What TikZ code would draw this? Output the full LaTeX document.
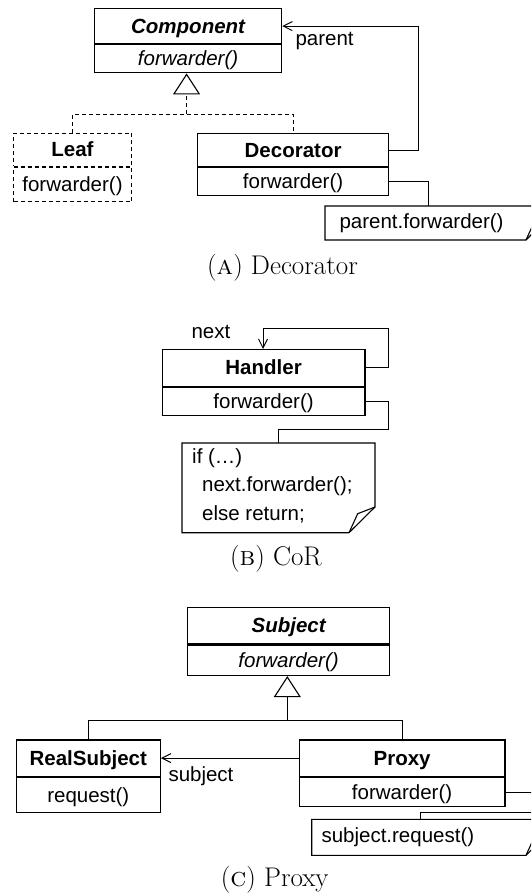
\documentclass[tikz,border=0pt]{standalone}
\usepackage{fontspec}
\newfontfamily\umlfont{Liberation Sans}
\usetikzlibrary{arrows.meta,calc}
\begin{document}
\begin{tikzpicture}[x=1pt,y=-1pt,
  line width=1pt,
  umltext/.style={font=\umlfont\fontsize{20.5}{24}\selectfont},
  compart/.style={draw, line width=1.2pt, rectangle, inner sep=0pt, anchor=north west, umltext, text height=17.5pt, text depth=3.5pt},
  ghost/.style={compart, line width=1pt, dash pattern=on 4pt off 3pt},
  notebox/.style={rectangle, inner sep=0pt, anchor=north west},
  noteline/.style={draw, line width=1.1pt},
  tag/.style={umltext, inner sep=0pt, anchor=west, text height=15pt, text depth=4.5pt},
  nav/.style={-{Straight Barb[length=9pt,width=9pt,line width=1pt]}},
  inherit/.style={-{Triangle[open,length=21pt,width=27pt,line width=1.1pt]}},
  caption/.style={font=\fontsize{27}{32}\selectfont, inner sep=0pt}
]
\useasboundingbox (0,0) rectangle (531,896);
\clip (0,0) rectangle (531,896);

% ---------------- (a) Decorator ----------------
\node[compart, minimum width=187pt, minimum height=35pt] (compN) at (94,8) {\bfseries\itshape Component};
\node[compart, minimum width=187pt, minimum height=28pt] (compO) at (compN.south west) {\itshape forwarder()};

\node[ghost, minimum width=118pt, minimum height=33pt] (leafN) at (13,133) {\bfseries Leaf};
\node[ghost, minimum width=118pt, minimum height=34pt] (leafO) at (leafN.south west) {forwarder()};

\node[compart, minimum width=191pt, minimum height=33pt] (decN) at (197,133) {\bfseries Decorator};
\node[compart, minimum width=191pt, minimum height=28pt] (decO) at (decN.south west) {forwarder()};

\node[notebox, minimum width=226pt, minimum height=33pt] (noteA) at (325,206) {};
\node[tag] (noteAtext) at ($(noteA.west)+(14,0)$) {parent.forwarder()};
\path[noteline] (noteA.north west) -- (noteA.north east) -- ($(noteA.south east)+(0,-26)$)
  -- ($(noteA.south east)+(-26,0)$) -- (noteA.south west) -- cycle;
\path[noteline] ($(noteA.south east)+(0,-26)$) -- ($(noteA.south east)+(-17.3,-19)$) -- ($(noteA.south east)+(-26,0)$);

\coordinate (genA) at ($(compO.south)+(-1.5,41)$);
\draw[dash pattern=on 4pt off 3pt] (leafN.north) |- (genA) -| (decN.north);
\draw[inherit, dash pattern=on 4pt off 3pt] (genA) -- (genA |- compO.south);

\draw[nav] (decN.east) -- ++(29,0) |- (compN.east);
\node[tag] (parentlbl) at (295,40) {parent};
\draw (decO.east) -| ($(noteA.north west)+(103,0)$);

\node[caption] (capA) at (282.5,268) {(\textsc{a}) Decorator};

% ---------------- (b) CoR ----------------
\node[compart, minimum width=202.6pt, minimum height=36.7pt] (handN) at (161.7,349) {\bfseries Handler};
\node[compart, minimum width=202.6pt, minimum height=28.3pt] (handO) at (handN.south west) {forwarder()};

\draw[nav] (handN.east) -- ++(22.7,0) -- ++(0,-39.6) -| ($(handN.north west)+(101.3,0)$);
\node[tag] (nextlbl) at (191,333) {next};

\node[notebox, minimum width=192pt, minimum height=88.7pt] (noteB) at (182,443) {};
\path[noteline] (noteB.north west) -- (noteB.north east) -- ($(noteB.south east)+(0,-25.7)$)
  -- ($(noteB.south east)+(-26,0)$) -- (noteB.south west) -- cycle;
\path[noteline] ($(noteB.south east)+(0,-25.7)$) -- ($(noteB.south east)+(-17.3,-19)$) -- ($(noteB.south east)+(-26,0)$);
\node[tag] (noteBl1) at ($(noteB.north west)+(9.7,15)$) {if (…)};
\node[tag] (noteBl2) at ($(noteB.north west)+(19.7,43.7)$) {next.forwarder();};
\node[tag] (noteBl3) at ($(noteB.north west)+(19.7,72)$) {else return;};

\draw (handO.east) -- ++(22.7,0) |- ($(noteB.north west)+(96,-14)$) -- ($(noteB.north west)+(96,0)$);

\node[caption] (capB) at (276,559) {(\textsc{b}) CoR};

% ---------------- (c) Proxy ----------------
\node[compart, minimum width=202pt, minimum height=36.6pt] (subjN) at (187,606.7) {\bfseries\itshape Subject};
\node[compart, minimum width=202pt, minimum height=30.4pt] (subjO) at (subjN.south west) {\itshape forwarder()};

\node[compart, minimum width=144pt, minimum height=36.4pt] (realN) at (15.7,739.3) {\bfseries RealSubject};
\node[compart, minimum width=144pt, minimum height=35.3pt] (realO) at (realN.south west) {request()};

\node[compart, minimum width=205.6pt, minimum height=36.4pt] (proxN) at (298.7,739.3) {\bfseries Proxy};
\node[compart, minimum width=205.6pt, minimum height=29.3pt] (proxO) at (proxN.south west) {forwarder()};

\coordinate (genC) at ($(subjO.south)+(-1.3,44)$);
\draw (realN.north) |- (genC) -| (proxN.north);
\draw[inherit] (genC) -- (genC |- subjO.south);

\draw[nav] (proxN.west) -- (realN.east);
\node[tag] (subjlbl) at (168,776) {subject};

\node[notebox, minimum width=239.3pt, minimum height=35pt] (noteC) at (311.7,819.3) {};
\node[tag] (noteCtext) at ($(noteC.west)+(9.3,0)$) {subject.request()};
\path[noteline] (noteC.north west) -- (noteC.north east) -- ($(noteC.south east)+(0,-26)$)
  -- ($(noteC.south east)+(-26,0)$) -- (noteC.south west) -- cycle;
\path[noteline] ($(noteC.south east)+(0,-26)$) -- ($(noteC.south east)+(-17.3,-19)$) -- ($(noteC.south east)+(-26,0)$);

\draw (proxO.east) -- ++(40,0) |- ($(noteC.north west)+(108.3,-6.6)$) -- ($(noteC.north west)+(108.3,0)$);

\node[caption] (capC) at (274.7,880) {(\textsc{c}) Proxy};
\end{tikzpicture}
\end{document}
